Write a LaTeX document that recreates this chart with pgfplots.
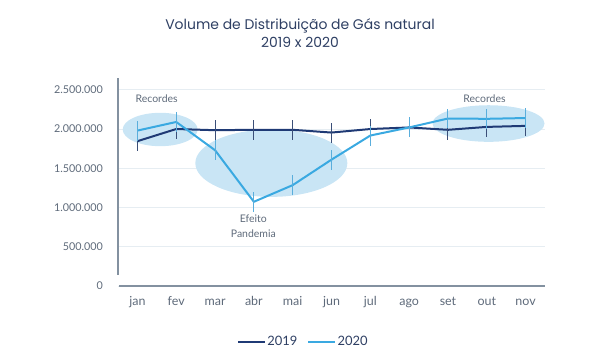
\documentclass[border=0pt]{standalone}
\usepackage{fontspec}
\setmainfont{Lato}
\newfontfamily\titlefont{Poppins}
\usepackage{pgfplots}
\pgfplotsset{compat=1.18}
\definecolor{dark}{HTML}{1F3A75}
\definecolor{light}{HTML}{3AA9E1}
\definecolor{darkbar}{HTML}{3B4F78}
\definecolor{lightbar}{HTML}{5AAEDC}
\definecolor{ell}{HTML}{C9E5F5}
\definecolor{lab}{HTML}{5E6A7A}
\definecolor{ttl}{HTML}{2E3F63}
\definecolor{axc}{HTML}{8391A0}
\definecolor{grd}{HTML}{E6EDF2}
\begin{document}
\begin{tikzpicture}
\useasboundingbox (0bp,0bp) rectangle (600bp,-360bp);
\node[font=\titlefont\fontsize{14}{18}\selectfont, text=ttl, align=center] at (300bp,-33bp) {Volume de Distribuição de Gás natural\\2019 x 2020};
\begin{axis}[
  at={(118bp,-286bp)}, anchor=south west, scale only axis,
  width=427bp, height=208bp,
  xmin=-0.5, xmax=10.5, ymin=0, ymax=2650000,
  clip=false, scaled y ticks=false,
  axis line style={draw=none},
  major tick length=0pt,
  ytick={0,500000,1000000,1500000,2000000,2500000},
  yticklabels={0,500.000,1.000.000,1.500.000,2.000.000,2.500.000},
  xtick={0,1,2,3,4,5,6,7,8,9,10},
  xticklabels={jan,fev,mar,abr,mai,jun,jul,ago,set,out,nov},
  ymajorgrids, grid style={grd, line width=0.8bp},
  yticklabel style={font=\fontsize{10.8}{12}\selectfont, text=lab, anchor=east, inner sep=0pt, xshift=-15bp},
  xticklabel style={font=\fontsize{12.5}{14}\selectfont, text=lab, anchor=base, inner sep=0pt, yshift=-19bp},
  legend columns=2,
  legend image code/.code={\draw[#1] (0bp,0bp) -- (27bp,0bp);},
  legend style={at={(0.433,-0.268)}, anchor=center, draw=none, fill=none,
    font=\fontsize{13}{15}\selectfont, text=ttl,
    nodes={inner sep=1bp},
    /tikz/every even column/.append style={column sep=9bp}},
]
\fill[ell] (axis cs:0.587,1994000) ellipse [x radius=37.5bp, y radius=16.7bp];
\fill[ell] (axis cs:3.45,1565000) ellipse [x radius=76bp, y radius=33.7bp];
\fill[ell] (axis cs:9.045,2070000) ellipse [x radius=56bp, y radius=18.3bp];
\draw[axc, line width=2bp] (rel axis cs:0,0.053) -- (rel axis cs:0,1);
\draw[axc, line width=2bp] (rel axis cs:0.002,0) -- (rel axis cs:1,0);
\addlegendimage{dark, line width=2.2bp}
\addlegendentry{2019}
\addlegendimage{light, line width=2.2bp}
\addlegendentry{2020}
\addplot[dark, line width=2bp, forget plot,
  error bars/.cd, y dir=both, y fixed=127000, error mark=none,
  error bar style={darkbar, line width=1bp}] coordinates {
(0,1845000) (1,2000000) (2,1985000) (3,1990000) (4,1990000) (5,1955000)
(6,2000000) (7,2020000) (8,1990000) (9,2027000) (10,2040000)};
\addplot[light, line width=2bp, forget plot,
  error bars/.cd, y dir=both, y fixed=127000, error mark=none,
  error bar style={lightbar, line width=1bp}] coordinates {
(0,1980000) (1,2090000) (2,1730000) (3,1073000) (4,1285000) (5,1610000)
(6,1917000) (7,2020000) (8,2134000) (9,2130000) (10,2140000)};
\end{axis}
\begin{scope}[every node/.style={font=\fontsize{10.5}{12}\selectfont, text=lab, inner sep=0pt}]
\node at (156.7bp,-99bp) {Recordes};
\node at (484.5bp,-99bp) {Recordes};
\node at (253.3bp,-219bp) {Efeito};
\node at (253.3bp,-233.3bp) {Pandemia};
\end{scope}
\end{tikzpicture}
\end{document}
